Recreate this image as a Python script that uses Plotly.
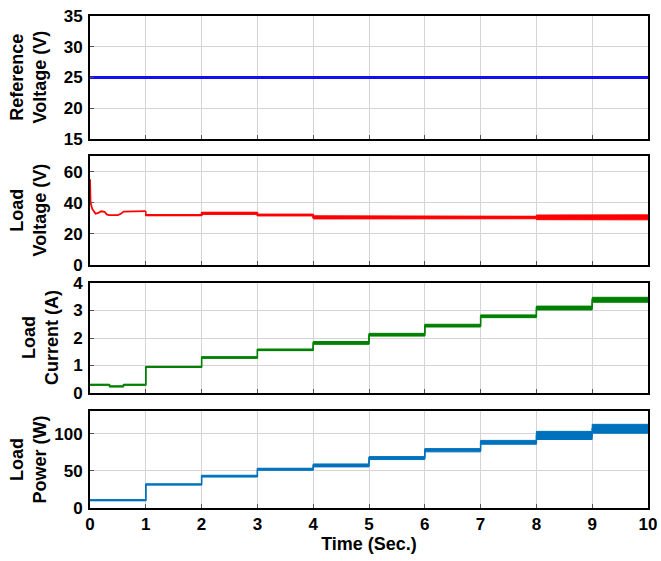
import plotly.graph_objects as go

# ---------------- data ----------------
seg_start = [0, 0.35, 0.6, 1, 2, 3, 4, 5, 6, 7, 8, 9]
seg_end_time = 10

reference_voltage = 25.0

# load voltage: start-up transient during the first second, then steps
v_transient_t = [0, 0.01, 0.04, 0.10, 0.15, 0.20, 0.26, 0.30, 0.34, 0.50, 0.56, 0.60, 1.0]
v_transient_v = [55, 40, 36, 33.0, 33.5, 34.5, 34.2, 32.5, 32.0, 32.0, 33.0, 34.3, 34.6]
voltage_mean = [None, None, None, 32.0, 33.2, 32.1, 30.6, 30.5, 30.4, 30.5, 30.6, 30.6]
voltage_ripple = [0.4, 0.4, 0.4, 0.4, 0.7, 0.6, 1.0, 0.9, 0.8, 0.8, 1.5, 1.6]

current_mean = [0.30, 0.24, 0.30, 0.95, 1.29, 1.57, 1.82, 2.12, 2.45, 2.79, 3.09, 3.39]
current_ripple = [0.02, 0.02, 0.02, 0.02, 0.03, 0.03, 0.05, 0.05, 0.05, 0.05, 0.07, 0.09]

power_mean = [10.5, 9.5, 10.5, 31.8, 43.0, 52.3, 57.5, 67.4, 78.0, 88.7, 98.0, 107.0]
power_ripple = [0.8, 0.8, 0.8, 0.8, 1.2, 1.4, 2.0, 2.0, 2.2, 2.6, 5.5, 6.0]

x_ticks = [0, 1, 2, 3, 4, 5, 6, 7, 8, 9, 10]
y_titles = ["Reference<br>Voltage (V)", "Load<br>Voltage (V)", "Load<br>Current (A)", "Load<br>Power (W)"]
y_ranges = [[15, 35], [0, 70], [0, 4], [0, 131]]
y_tickvals = [[15, 20, 25, 30, 35], [0, 20, 40, 60], [0, 1, 2, 3, 4], [0, 50, 100]]
colors = ["#1010f0", "#ff0000", "#008000", "#0072BD"]

# ---------------- helpers ----------------
ends = seg_start[1:] + [seg_end_time]


def steps(means, offs, sign):
    xs, ys = [], []
    for s, e, m, r in zip(seg_start, ends, means, offs):
        if m is None:
            continue
        xs += [s, e]
        ys += [m + sign * r, m + sign * r]
    return xs, ys


def band_traces(means, ripple, color, axis):
    xu, yu = steps(means, ripple, 1)
    xl, yl = steps(means, ripple, -1)
    xc, yc = steps(means, [0] * len(means), 0)
    return [
        go.Scatter(x=xu, y=yu, mode="lines", line=dict(color=color, width=1),
                   xaxis="x", yaxis=axis, hoverinfo="skip"),
        go.Scatter(x=xl, y=yl, mode="lines", line=dict(color=color, width=1),
                   fill="tonexty", fillcolor=color, xaxis="x", yaxis=axis, hoverinfo="skip"),
        go.Scatter(x=xc, y=yc, mode="lines", line=dict(color=color, width=1.5),
                   xaxis="x", yaxis=axis),
    ]


fig = go.Figure()

# panel 1 : reference voltage
fig.add_trace(go.Scatter(x=[0, seg_end_time], y=[reference_voltage, reference_voltage],
                         mode="lines", line=dict(color=colors[0], width=3), yaxis="y"))

# panel 2 : load voltage
fig.add_trace(go.Scatter(x=v_transient_t, y=v_transient_v, mode="lines",
                         line=dict(color=colors[1], width=1.8), yaxis="y2"))
for tr in band_traces(voltage_mean, voltage_ripple, colors[1], "y2"):
    fig.add_trace(tr)
vx, vy = steps(voltage_mean, [0] * len(voltage_mean), 0)
fig.add_trace(go.Scatter(x=[v_transient_t[-1]] + vx, y=[v_transient_v[-1]] + vy, mode="lines",
                         line=dict(color=colors[1], width=1.5), yaxis="y2"))

# panel 3 : load current
for tr in band_traces(current_mean, current_ripple, colors[2], "y3"):
    fig.add_trace(tr)

# panel 4 : load power
for tr in band_traces(power_mean, power_ripple, colors[3], "y4"):
    fig.add_trace(tr)

# ---------------- layout ----------------
L, R, T, B = 90, 13, 16, 53
H = 561 - T - B
pix = [(16, 139), (156, 265), (283, 393), (411, 508)]
domains = [[(508 - b) / H, (508 - t) / H] for t, b in pix]

font_b = "Liberation Sans, Arial, sans-serif"
axis_common = dict(showline=True, linecolor="black", linewidth=2, mirror=True,
                   showgrid=True, gridcolor="#d4d4d4", gridwidth=1, zeroline=False,
                   ticks="inside", ticklen=4, tickcolor="#555555", automargin=False,
                   tickfont=dict(family=font_b, size=17, color="black", weight="bold"))

layout = dict(width=661, height=561, margin=dict(l=L, r=R, t=T, b=B, autoexpand=False),
              paper_bgcolor="white", plot_bgcolor="white", showlegend=False,
              font=dict(family=font_b, color="black"))

layout["xaxis"] = dict(axis_common, range=[0, 10], tickvals=x_ticks, anchor="y4",
                       title=dict(text="Time (Sec.)", standoff=2,
                                  font=dict(family=font_b, size=18, weight="bold")))
names = ["yaxis", "yaxis2", "yaxis3", "yaxis4"]
for i, nm in enumerate(names):
    layout[nm] = dict(axis_common, domain=domains[i], range=y_ranges[i],
                      tickvals=y_tickvals[i], anchor="x", ticklabelstandoff=2)
fig.update_layout(**layout)

# extra x axes for gridlines and frame on upper panels
for i in range(3):
    key = "xaxis%d" % (i + 2)
    fig.update_layout({key: dict(axis_common, range=[0, 10], tickvals=x_ticks, showticklabels=False,
                                 anchor="y" if i == 0 else "y%d" % (i + 1), overlaying="x")})
    fig.add_trace(go.Scatter(x=[None], y=[None], xaxis="x%d" % (i + 2),
                             yaxis="y" if i == 0 else "y%d" % (i + 1)))

title_x = [28, 28, 40, 28]
for i, txt in enumerate(y_titles):
    t, b = pix[i]
    fig.add_annotation(text=txt, xref="paper", yref="paper",
                       x=(title_x[i] - L) / (661 - L - R), y=(508 - (t + b) / 2) / H,
                       xanchor="center", yanchor="middle", textangle=-90, showarrow=False,
                       font=dict(family=font_b, size=18, color="black", weight="bold"))

fig.write_html("out.html", config={"displayModeBar": False},
               post_script="document.body.style.margin='0';document.body.style.overflow='hidden';")
